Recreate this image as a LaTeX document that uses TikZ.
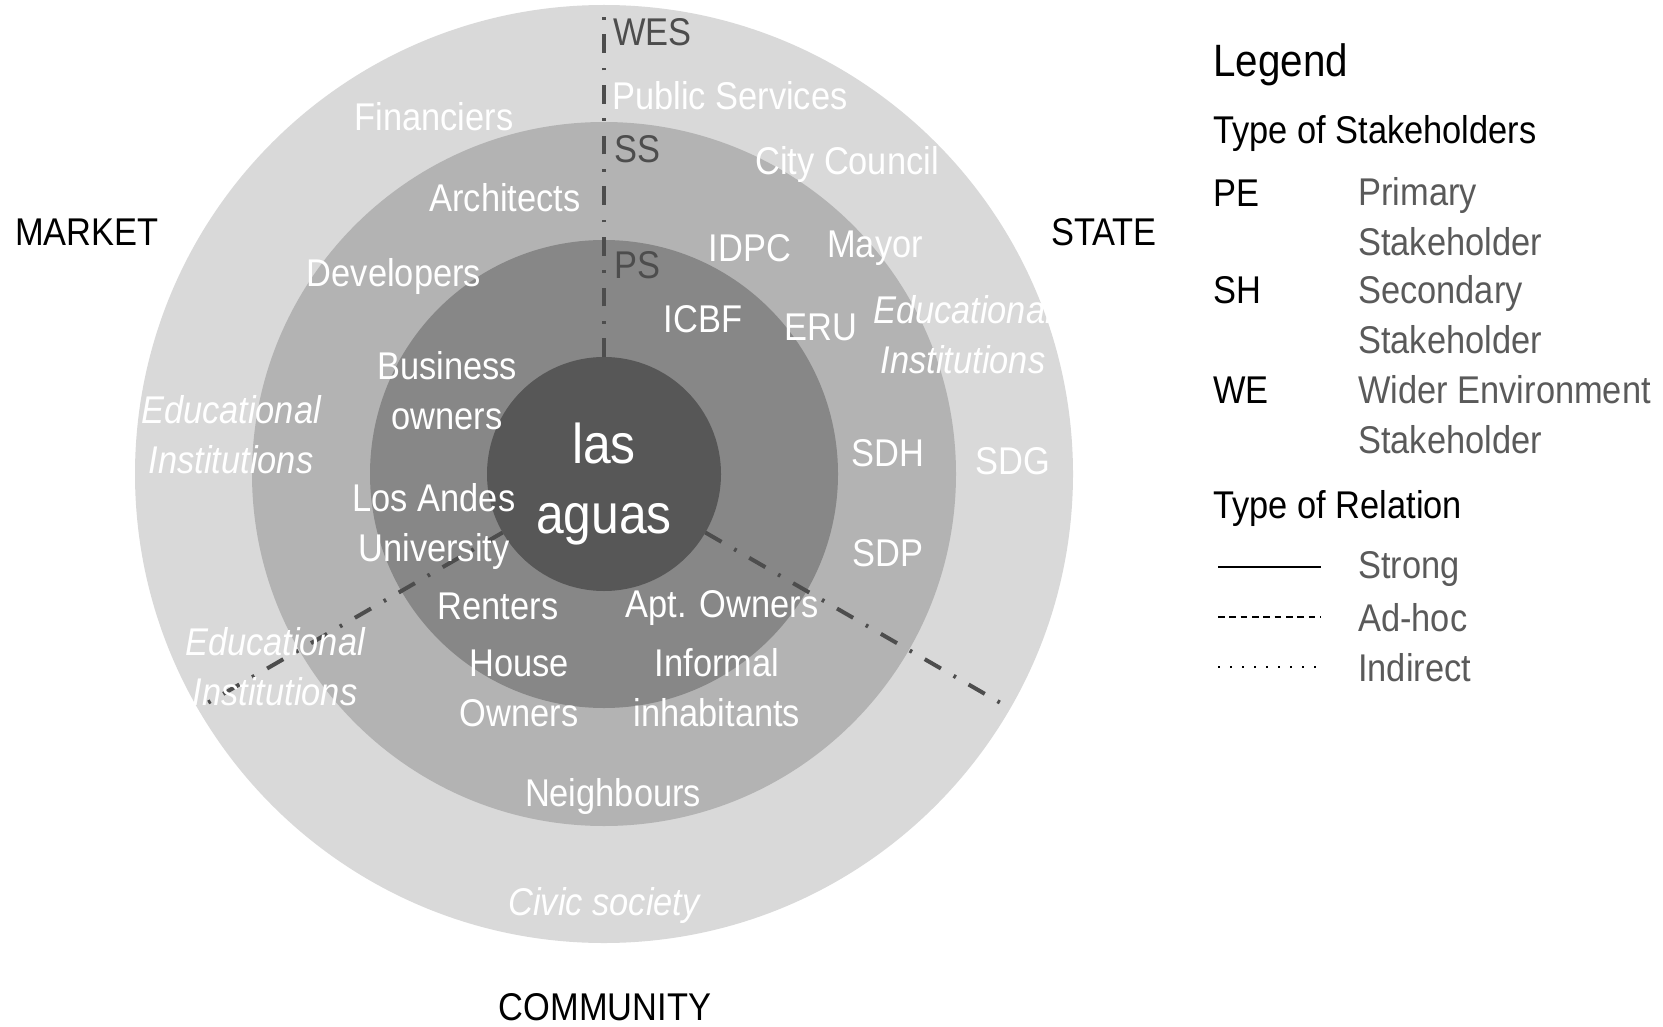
\documentclass[tikz,border=0pt]{standalone}
\usepackage{fontspec}
\setmainfont{Liberation Sans}[FakeStretch=0.89]
\usepackage{tikz}
\usetikzlibrary{calc}
\definecolor{ringWE}{HTML}{D9D9D9}
\definecolor{ringSS}{HTML}{B3B3B3}
\definecolor{ringPS}{HTML}{878787}
\definecolor{ringCore}{HTML}{575757}
\definecolor{darkTxt}{HTML}{4D4D4D}
\definecolor{greyTxt}{HTML}{5A5A5A}
\tikzset{
	lbl/.style={font=\fontsize{29}{37.5}\selectfont, inner sep=0pt, align=center, text=white},
	lblit/.style={lbl, font=\fontsize{29}{37.5}\selectfont\itshape},
	ringtag/.style={lbl, anchor=west, text=darkTxt},
	side/.style={lbl, text=black},
	legtxt/.style={lbl, anchor=west, align=left, text=black},
	legdesc/.style={legtxt, text=greyTxt},
	divider/.style={line width=3pt, color=darkTxt, dash pattern=on 14pt off 11pt on 2pt off 11pt}
}

\begin{document}
\begin{tikzpicture}[x=0.75pt, y=-0.75pt]
			%%%%% START %%%%%
			\useasboundingbox (0, 0) rectangle (1663, 1027);
			
			\coordinate (c) at (604, 474);
			\fill[ringWE] (c) circle (351.75pt);
			\fill[ringSS] (c) circle (264pt);
			\fill[ringPS] (c) circle (175.5pt);
			\fill[ringCore] (c) circle (87.75pt);
			
			\draw[divider] ([shift={(90:87.75pt)}]c) -- ([shift={(90:348pt)}]c);
			\draw[divider] ([shift={(210:87.75pt)}]c) -- ([shift={(210:351.75pt)}]c);
			\draw[divider] ([shift={(330:87.75pt)}]c) -- ([shift={(330:351.75pt)}]c);
			
			\node[ringtag] (wes) at (613, 32) {WES};
			\node[ringtag] (ss) at (614, 149) {SS};
			\node[ringtag] (ps) at (614, 265) {PS};
			
			\node[lbl, anchor=west] (pubserv) at (612, 96) {Public Services};
			\node[lbl] (financiers) at (434, 117) {Financiers};
			\node[lbl] (council) at (847, 165) {City Council};
			\node[lbl] (architects) at (505, 198) {Architects};
			\node[lbl] (developers) at (394, 277) {Developers};
			\node[lbl] (idpc) at (750, 248) {IDPC};
			\node[lbl] (mayor) at (875, 248) {Mayor};
			\node[lbl] (icbf) at (703, 319) {ICBF};
			\node[lbl] (eru) at (821, 327) {ERU};
			\node[lblit] (eduright) at (963, 335) {Educational\\Institutions};
			\node[lbl] (business) at (447, 391) {Business\\owners};
			\node[lblit] (eduleft) at (231, 435) {Educational\\Institutions};
			\node[lbl] (sdh) at (888, 453) {SDH};
			\node[lbl] (sdg) at (1013, 461) {SDG};
			\node[lbl] (losandes) at (434, 526) {Los Andes\\University};
			\node[lbl] (sdp) at (888, 553) {SDP};
			\node[lbl] (renters) at (498, 606) {Renters};
			\node[lbl] (aptowners) at (722, 608) {Apt. Owners};
			\node[lblit] (edulow) at (275, 667) {Educational\\Institutions};
			\node[lbl] (houseowners) at (519, 688) {House\\Owners};
			\node[lbl] (informal) at (717, 688) {Informal\\inhabitants};
			\node[lbl] (neighbours) at (613, 796) {Neighbours};
			\node[lblit] (civic) at (604, 905) {Civic society};
			
			\node[lbl, font=\fontsize{42}{52}\selectfont] (lasaguas) at (604, 484) {las\\aguas};
			
			\node[side] (market) at (87, 232) {MARKET};
			\node[side] (state) at (1104, 232) {STATE};
			\node[side] (community) at (605, 1007) {COMMUNITY};
			
			% legend
			\node[legtxt, font=\fontsize{34}{40}\selectfont] (legend) at (1213, 65) {Legend};
			\node[legtxt] (typestake) at (1213, 134) {Type of Stakeholders};
			\node[legtxt] (pe) at (1213, 193) {PE};
			\node[legdesc] (pedesc) at (1358, 217) {Primary\\Stakeholder};
			\node[legtxt] (sh) at (1213, 290) {SH};
			\node[legdesc] (shdesc) at (1358, 315) {Secondary\\Stakeholder};
			\node[legtxt] (we) at (1213, 390) {WE};
			\node[legdesc] (wedesc) at (1358, 415) {Wider Environment\\Stakeholder};
			\node[legtxt] (typerel) at (1213, 508) {Type of Relation};
			
			\draw[line width=2.2pt] (1218, 567) -- (1321, 567);
			\draw[line width=1.5pt, dash pattern=on 5pt off 3.5pt] (1218, 617) -- (1321, 617);
			\draw[line width=1.5pt, dash pattern=on 1.5pt off 7.5pt] (1218, 667) -- (1321, 667);
			\node[legdesc] (strong) at (1358, 569) {Strong};
			\node[legdesc] (adhoc) at (1358, 618) {Ad-hoc};
			\node[legdesc] (indirect) at (1358, 668) {Indirect};
			
			%%%%% END %%%%%
\end{tikzpicture}
\end{document}
